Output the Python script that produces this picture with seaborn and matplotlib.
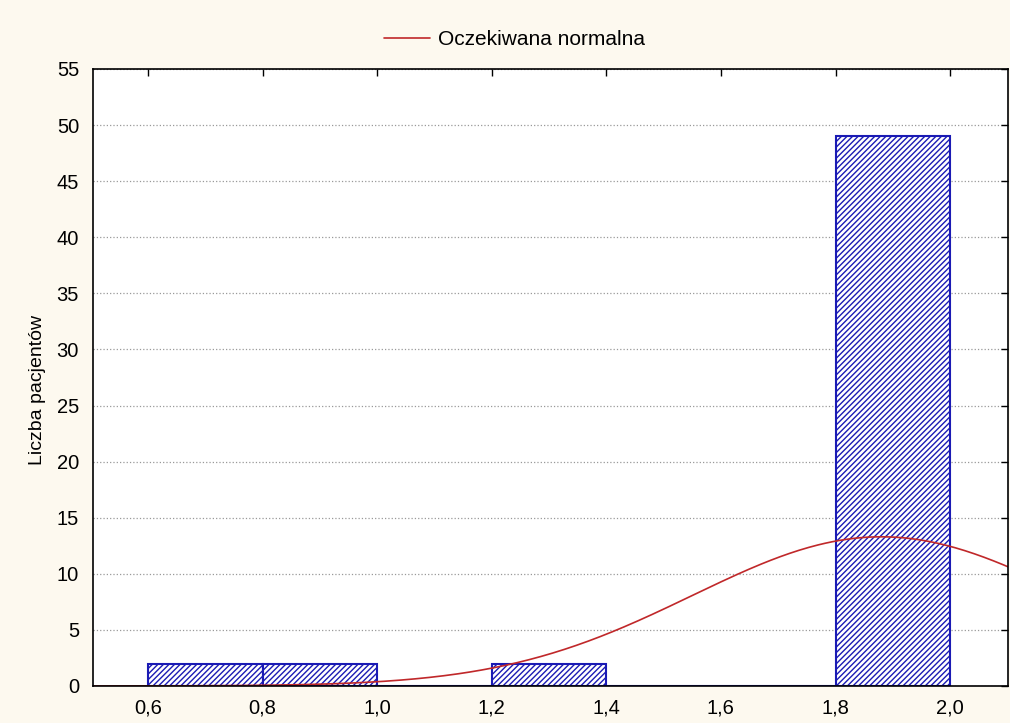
import numpy as np
import pandas as pd
import matplotlib
matplotlib.use("Agg")
import matplotlib.pyplot as plt
import seaborn as sns
from matplotlib.ticker import FuncFormatter, MultipleLocator

# Data
bin_edges = [0.6, 0.8, 1.0, 1.2, 1.4, 1.6, 1.8, 2.0]
bin_counts = [2, 2, 0, 2, 0, 0, 49]
normal_mean = 1.88
normal_sd = 0.33
n_total = 55
bin_width = 0.2
legend_label = "Oczekiwana normalna"
y_label = "Liczba pacjentów"

sns.set_theme(style="white")
plt.rcParams['font.family'] = ['Liberation Sans', 'DejaVu Sans']
plt.rcParams['hatch.linewidth'] = 1.0
plt.rcParams['text.color'] = 'black'
plt.rcParams['axes.labelcolor'] = 'black'

fig = plt.figure(figsize=(10.10, 7.23), dpi=100)
fig.patch.set_facecolor('#fdf9ef')
ax = fig.add_axes([0.092, 0.0512, 0.906, 0.8534])
ax.set_facecolor('white')

centers = [(a + b) / 2 for a, b in zip(bin_edges[:-1], bin_edges[1:])]
df = pd.DataFrame({"x": centers, "w": bin_counts})
sns.histplot(data=df, x="x", weights="w", bins=bin_edges, ax=ax,
             stat="count", facecolor="white", edgecolor="#1a1ab4",
             linewidth=1.5, hatch="//////", alpha=1.0)

xs = np.linspace(0.5, 2.15, 400)
ys = n_total * bin_width * np.exp(-0.5 * ((xs - normal_mean) / normal_sd) ** 2) / (normal_sd * np.sqrt(2 * np.pi))
sns.lineplot(x=xs, y=ys, ax=ax, color="#c0282a", linewidth=1.2, label=legend_label)

ax.set_xlim(0.504, 2.101)
ax.set_ylim(0, 55)
ax.xaxis.set_major_locator(MultipleLocator(0.2))
ax.yaxis.set_major_locator(MultipleLocator(5))
ax.xaxis.set_major_formatter(FuncFormatter(lambda v, p: f"{v:.1f}".replace(".", ",")))
ax.yaxis.set_major_formatter(FuncFormatter(lambda v, p: f"{int(round(v))}"))
ax.tick_params(axis='both', which='major', direction='in', length=5, width=1,
               top=True, right=True, labelsize=14.5, colors='black')
ax.tick_params(axis='x', pad=9)
ax.tick_params(axis='y', pad=10)
ax.grid(axis='y', linestyle=':', color='#999999', linewidth=0.9)
ax.set_axisbelow(True)
for s in ax.spines.values():
    s.set_color('black')
    s.set_linewidth(1.2)
ax.set_xlabel("")
ax.set_ylabel(y_label, fontsize=14, labelpad=8, color='black')
ax.yaxis.set_label_coords(-0.051, 0.48)

leg = ax.legend(loc='center', bbox_to_anchor=(0.461, 1.047), frameon=False,
                fontsize=15, handlelength=2.2, handletextpad=0.4,
                borderaxespad=0, borderpad=0)
for t in leg.get_texts():
    t.set_color('black')

fig.savefig("out.png", dpi=100, facecolor=fig.get_facecolor())
